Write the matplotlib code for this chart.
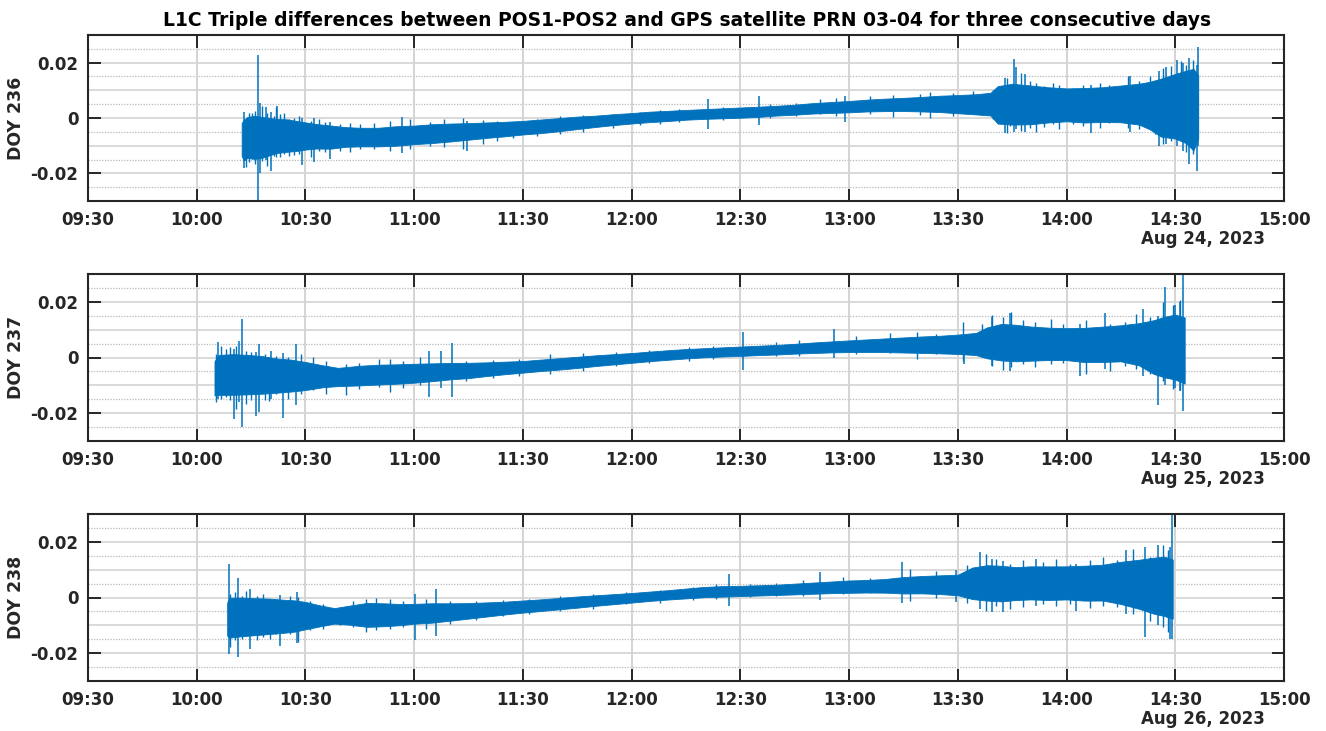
import numpy as np
import pandas as pd
import matplotlib
matplotlib.use('Agg')
import matplotlib.pyplot as plt
import matplotlib.dates as mdates

plt.rcParams['font.family'] = ['DejaVu Sans']
plt.rcParams['font.weight'] = 'bold'

BLUE = '#0072BD'
DARK = '#262626'

days = ['2023-08-24', '2023-08-25', '2023-08-26']
doy_labels = ['DOY 236', 'DOY 237', 'DOY 238']
date_labels = ['Aug 24, 2023', 'Aug 25, 2023', 'Aug 26, 2023']

# ---- DOY 236: envelope of the dense noise band (time, low, high)
env236_t = ['10:12:24', '10:13', '10:14', '10:16', '10:18', '10:20', '10:22', '10:25', '10:28',
            '10:30', '10:33', '10:37', '10:41', '10:45', '10:50', '10:55', '11:00', '11:05',
            '11:10', '11:15', '11:20', '11:25', '11:30', '11:35', '11:40', '11:45', '11:50',
            '11:55', '12:00', '12:05', '12:10', '12:15', '12:20', '12:25', '12:30', '12:35',
            '12:40', '12:45', '12:50', '12:55', '13:00', '13:05', '13:10', '13:15', '13:20',
            '13:25', '13:30', '13:35', '13:39', '13:41', '13:45', '13:50', '13:55', '14:00',
            '14:05', '14:10', '14:15', '14:20', '14:23', '14:26', '14:30', '14:33', '14:35',
            '14:36:20']
env236_lo = [-0.0150, -0.0170, -0.0160, -0.0165, -0.0160, -0.0150, -0.0140, -0.0135, -0.0130,
             -0.0125, -0.0120, -0.0120, -0.0112, -0.0110, -0.0110, -0.0108, -0.0102, -0.0098,
             -0.0092, -0.0085, -0.0078, -0.0072, -0.0065, -0.0060, -0.0053, -0.0045, -0.0037,
             -0.0030, -0.0024, -0.0019, -0.0015, -0.0010, -0.0007, -0.0005, -0.0003, 0.0000,
             0.0005, 0.0008, 0.0012, 0.0014, 0.0016, 0.0019, 0.0020, 0.0020, 0.0018,
             0.0015, 0.0010, 0.0005, 0.0000, -0.0035, -0.0040, -0.0038, -0.0030, -0.0025,
             -0.0030, -0.0028, -0.0030, -0.0040, -0.0060, -0.0090, -0.0100, -0.0120, -0.0150,
             -0.0100]
env236_hi = [-0.0005, 0.0010, 0.0020, 0.0025, 0.0020, 0.0015, 0.0010, 0.0008, 0.0000,
             -0.0005, -0.0012, -0.0018, -0.0025, -0.0028, -0.0028, -0.0022, -0.0020, -0.0015,
             -0.0013, -0.0012, -0.0010, -0.0008, -0.0005, 0.0000, 0.0005, 0.0010, 0.0013,
             0.0018, 0.0022, 0.0027, 0.0030, 0.0033, 0.0036, 0.0039, 0.0042, 0.0045,
             0.0048, 0.0052, 0.0058, 0.0062, 0.0066, 0.0071, 0.0075, 0.0078, 0.0082,
             0.0087, 0.0090, 0.0094, 0.0100, 0.0130, 0.0140, 0.0133, 0.0125, 0.0120,
             0.0122, 0.0125, 0.0132, 0.0140, 0.0150, 0.0165, 0.0185, 0.0200, 0.0210,
             0.0180]
# outlier spikes (time, low, high)
spk236_t = ['10:13:00', '10:17:00', '10:17:24', '10:19:00', '10:20:24', '10:22:12', '10:29:06',
            '10:32:18', '10:36:54', '10:56:36', '11:14:30', '12:21:12', '12:35:06', '12:59:00',
            '13:42:54', '13:45:36', '13:46:06', '13:48:24', '14:06:48', '14:17:24', '14:25:36',
            '14:27:30', '14:30:24', '14:32:06', '14:33:54', '14:35:54', '14:36:24']
spk236_lo = [-0.018, -0.031, -0.020, -0.015, -0.019, -0.012, -0.017, -0.016, -0.0148, -0.0125,
             -0.0118, -0.004, -0.0025, -0.0013, -0.0055, -0.005, -0.004, -0.005, -0.0053,
             -0.005, -0.010, -0.0095, -0.010, -0.012, -0.0166, -0.019, -0.010]
spk236_hi = [0.002, 0.0226, 0.0055, 0.004, 0.002, 0.0043, 0.000, 0.000, -0.0015, 0.0004,
             -0.001, 0.0067, 0.0081, 0.0080, 0.0145, 0.0214, 0.0185, 0.0160, 0.012, 0.0150,
             0.0170, 0.0185, 0.0210, 0.0200, 0.0216, 0.0190, 0.0258]
# fringe extremes of the band (time, low, high)
frg236_t = ['10:13:30', '10:14:24', '10:15:18', '10:16:12', '10:18:06', '10:19:24', '10:21:18',
            '10:22:00', '10:23:06', '10:24:00', '10:25:24', '10:26:48', '10:28:12', '10:31:24',
            '10:33:42', '10:35:30', '10:39:36', '10:42:24', '10:45:06', '10:48:48', '10:53:24',
            '10:58:54', '11:04:24', '11:08:06', '11:13:36', '11:19:06', '11:22:48', '11:27:24',
            '11:33:48', '11:40:12', '11:46:36', '11:54:54', '12:02:12', '12:07:42', '12:13:12',
            '12:25:06',
            '12:38:06', '12:45:24', '12:51:54', '12:56:30', '13:05:42', '13:12:06', '13:19:30',
            '13:22:12', '13:28:36', '13:34:06', '13:39:42', '13:43:30', '13:44:18', '13:47:30',
            '13:49:48', '13:51:36', '13:53:54', '13:56:12', '13:58:00', '14:01:42', '14:04:30',
            '14:09:06', '14:11:48', '14:16:54', '14:20:06', '14:22:54', '14:24:18', '14:26:36',
            '14:28:48', '14:31:36', '14:33:00', '14:34:48']
frg236_hi = [-0.0005, 0.0019, 0.0019, 0.0025, 0.0043, 0.0019, 0.0007, 0.0039, 0.0013, 0.0019,
             -0.0005, 0.0001, 0.0007, -0.0011, -0.0005, -0.0013, -0.0023, -0.0017, -0.0020,
             -0.0017, -0.0011, -0.0005, -0.0013, -0.0005, 0.0001, -0.0008, -0.0011, -0.0013,
             -0.0005, 0.0007, 0.0011, 0.0013, 0.0023, 0.0028, 0.0031, 0.0039,
             0.0051, 0.0055, 0.0067, 0.0073, 0.0079, 0.0083, 0.0087, 0.0094, 0.0091, 0.0097,
             0.0103, 0.0145, 0.0121, 0.0163, 0.0133, 0.0127, 0.0115, 0.0127, 0.0121, 0.0109,
             0.0121, 0.0127, 0.0121, 0.0151, 0.0133, 0.0151, 0.0133, 0.0181, 0.0187, 0.0205,
             0.0193, 0.0211]
frg236_lo = [-0.0178, -0.0160, -0.0148, -0.0166, -0.0154, -0.0172, -0.0136, -0.0142, -0.0142,
             -0.0130, -0.0136, -0.0133, -0.0130, -0.0142, -0.0118, -0.0124, -0.0118, -0.0124,
             -0.0112, -0.0112, -0.0118, -0.0112, -0.0100, -0.0106, -0.0112, -0.0094, -0.0083,
             -0.0073, -0.0065, -0.0059, -0.0049, -0.0037, -0.0025, -0.0020, -0.0013, -0.0008,
             0.0001, 0.0007, 0.0013, 0.0007, 0.0013, 0.0004, 0.0011, 0.0001, 0.0007, 0.0013,
             -0.0005, -0.0053, -0.0029, -0.0047, -0.0035, -0.0050, -0.0032, -0.0023, -0.0041,
             -0.0020, -0.0029, -0.0035, -0.0017, -0.0035, -0.0041, -0.0029, -0.0059, -0.0094,
             -0.0083, -0.0071, -0.0124, -0.0130]

# ---- DOY 237
env237_t = ['10:04:54', '10:06', '10:10', '10:14', '10:18', '10:22', '10:26', '10:30', '10:35',
            '10:39', '10:45', '10:50', '10:55', '11:00', '11:05', '11:10', '11:15', '11:20',
            '11:25', '11:30', '11:35', '11:40', '11:45', '11:50', '11:55', '12:00', '12:05',
            '12:10', '12:15', '12:20', '12:25', '12:30', '12:35', '12:40', '12:45', '12:50',
            '12:55', '13:00', '13:05', '13:10', '13:15', '13:20', '13:25', '13:30', '13:35',
            '13:38', '13:42', '13:46', '13:50', '13:55', '14:00', '14:05', '14:10', '14:15',
            '14:20', '14:24', '14:27', '14:30', '14:32:36']
env237_lo = [-0.0150, -0.0150, -0.0150, -0.0148, -0.0145, -0.0140, -0.0135, -0.0128, -0.0115,
             -0.0110, -0.0108, -0.0105, -0.0102, -0.0098, -0.0092, -0.0085, -0.0080, -0.0072,
             -0.0065, -0.0059, -0.0053, -0.0048, -0.0042, -0.0035, -0.0029, -0.0023, -0.0017,
             -0.0012, -0.0007, -0.0003, 0.0000, 0.0002, 0.0005, 0.0007, 0.0010, 0.0012,
             0.0014, 0.0015, 0.0015, 0.0014, 0.0012, 0.0010, 0.0008, 0.0005, 0.0000,
             -0.0015, -0.0025, -0.0028, -0.0025, -0.0022, -0.0022, -0.0030, -0.0030, -0.0028,
             -0.0045, -0.0080, -0.0095, -0.0105, -0.0120]
env237_hi = [0.0000, 0.0025, 0.0028, 0.0025, 0.0020, 0.0010, 0.0005, -0.0005, -0.0020,
             -0.0030, -0.0022, -0.0018, -0.0017, -0.0015, -0.0014, -0.0013, -0.0013, -0.0012,
             -0.0010, -0.0008, -0.0003, 0.0002, 0.0007, 0.0012, 0.0016, 0.0020, 0.0025,
             0.0030, 0.0034, 0.0037, 0.0040, 0.0043, 0.0046, 0.0049, 0.0053, 0.0058,
             0.0062, 0.0066, 0.0070, 0.0074, 0.0078, 0.0082, 0.0085, 0.0090, 0.0097,
             0.0120, 0.0135, 0.0132, 0.0125, 0.0120, 0.0118, 0.0120, 0.0125, 0.0130,
             0.0140, 0.0155, 0.0170, 0.0180, 0.0170]
spk237_t = ['10:06:00', '10:10:12', '10:11:48', '10:12:30', '10:16:24', '10:17:18', '10:20:30',
            '10:23:42', '10:27:24', '11:04:12', '11:07:24', '11:10:24', '12:30:42', '12:55:48',
            '13:31:48', '13:39:18', '13:44:18', '14:03:42', '14:10:36', '14:21:06', '14:25:18',
            '14:27:12', '14:29:54', '14:31:18', '14:32:12']
spk237_lo = [-0.015, -0.022, -0.016, -0.025, -0.021, -0.0196, -0.015, -0.0217, -0.017, -0.0142,
             -0.011, -0.0142, -0.0044, 0.000, -0.0025, -0.003, -0.0047, -0.0065, -0.004,
             -0.0065, -0.017, -0.010, -0.011, -0.012, -0.0193]
spk237_hi = [0.0055, 0.003, 0.006, 0.0139, 0.002, 0.0049, 0.0025, 0.0015, 0.0049, 0.0025,
             0.0025, 0.0051, 0.0093, 0.0103, 0.0085, 0.0147, 0.0159, 0.012, 0.0159, 0.0175,
             0.0150, 0.0252, 0.0190, 0.0200, 0.0310]
frg237_t = ['10:05:18', '10:06:42', '10:08:06', '10:09:12', '10:10:54', '10:13:36', '10:15:00',
            '10:18:42', '10:20:00', '10:21:54', '10:25:06', '10:28:48', '10:32:00', '10:35:42',
            '10:41:12', '10:44:54', '10:50:24', '10:53:12', '10:56:54', '11:01:30', '11:14:18',
            '11:21:42', '11:29:00', '11:37:24', '11:46:36', '11:55:42', '12:04:54', '12:15:54',
            '12:22:24',
            '12:39:54', '12:46:18', '13:02:00', '13:11:12', '13:18:36', '13:24:06', '13:31:24',
            '13:36:48', '13:39:18', '13:42:30', '13:44:48', '13:48:00', '13:51:12', '13:55:48',
            '13:59:00', '14:05:30', '14:12:00', '14:16:06', '14:19:18', '14:23:00', '14:26:42',
            '14:29:24', '14:31:12']
frg237_hi = [0.0013, 0.0043, 0.0031, 0.0037, 0.0043, 0.0025, 0.0019, 0.0013, -0.0008, 0.0007,
             0.0001, 0.0013, 0.0001, -0.0013, -0.0023, -0.0020, -0.0005, -0.0005, -0.0011,
             0.0001, -0.0013, -0.0008, -0.0005, 0.0013, 0.0016, 0.0019, 0.0028, 0.0039, 0.0043,
             0.0055, 0.0063, 0.0079, 0.0087, 0.0091, 0.0085, 0.0127, 0.0121, 0.0151, 0.0145,
             0.0163, 0.0133, 0.0127, 0.0139, 0.0121, 0.0133, 0.0121, 0.0127, 0.0157, 0.0145,
             0.0199, 0.0187, 0.0205]
frg237_lo = [-0.0160, -0.0148, -0.0142, -0.0154, -0.0184, -0.0166, -0.0152, -0.0154, -0.0158,
             -0.0130, -0.0148, -0.0130, -0.0118, -0.0130, -0.0136, -0.0112, -0.0106, -0.0124,
             -0.0109, -0.0100, -0.0085, -0.0073, -0.0065, -0.0059, -0.0047, -0.0032, -0.0020,
             -0.0011, -0.0005,
             0.0007, 0.0007, 0.0013, 0.0016, -0.0005, 0.0013, -0.0013, 0.0001, -0.0029, -0.0044,
             -0.0035, -0.0023, -0.0035, -0.0025, -0.0020, -0.0059, -0.0047, -0.0029, -0.0041,
             -0.0059, -0.0083, -0.0112, -0.0118]

# ---- DOY 238
env238_t = ['10:08:24', '10:09', '10:12', '10:16', '10:20', '10:24', '10:27', '10:30', '10:34',
            '10:38', '10:42', '10:47', '10:52', '10:56', '11:00', '11:05', '11:10', '11:15',
            '11:20', '11:25', '11:30', '11:35', '11:40', '11:45', '11:50', '11:55', '12:00',
            '12:05', '12:10', '12:15', '12:20', '12:25', '12:30', '12:35', '12:40', '12:45',
            '12:50', '12:55', '13:00', '13:05', '13:10', '13:15', '13:20', '13:25', '13:30',
            '13:34', '13:38', '13:42', '13:46', '13:50', '13:55', '14:00', '14:05', '14:10',
            '14:15', '14:20', '14:24', '14:27', '14:29:18']
env238_lo = [-0.0150, -0.0160, -0.0155, -0.0150, -0.0145, -0.0140, -0.0135, -0.0125, -0.0112,
             -0.0100, -0.0105, -0.0115, -0.0112, -0.0108, -0.0102, -0.0098, -0.0090, -0.0082,
             -0.0074, -0.0066, -0.0059, -0.0053, -0.0047, -0.0041, -0.0034, -0.0028, -0.0022,
             -0.0016, -0.0011, -0.0007, -0.0003, -0.0001, 0.0001, 0.0003, 0.0005, 0.0007,
             0.0009, 0.0011, 0.0012, 0.0013, 0.0012, 0.0008, 0.0008, 0.0005, 0.0000,
             -0.0018, -0.0025, -0.0028, -0.0022, -0.0020, -0.0022, -0.0020, -0.0025, -0.0025,
             -0.0040, -0.0060, -0.0080, -0.0090, -0.0100]
env238_hi = [-0.0005, 0.0015, 0.0015, 0.0012, 0.0010, 0.0005, 0.0002, -0.0005, -0.0020,
             -0.0032, -0.0022, -0.0010, -0.0012, -0.0015, -0.0015, -0.0013, -0.0014, -0.0014,
             -0.0012, -0.0010, -0.0006, -0.0002, 0.0003, 0.0008, 0.0012, 0.0016, 0.0020,
             0.0025, 0.0030, 0.0036, 0.0042, 0.0045, 0.0046, 0.0048, 0.0050, 0.0054,
             0.0058, 0.0062, 0.0066, 0.0068, 0.0072, 0.0080, 0.0084, 0.0087, 0.0090,
             0.0120, 0.0130, 0.0128, 0.0122, 0.0125, 0.0125, 0.0125, 0.0128, 0.0132,
             0.0145, 0.0155, 0.0165, 0.0170, 0.0160]
spk238_t = ['10:08:54', '10:11:18', '10:14:48', '10:23:06', '10:27:42', '11:00:06', '11:06:06',
            '12:26:48', '12:52:06', '13:14:42', '13:29:36', '13:36:06', '13:39:18', '13:42:30',
            '13:51:42', '14:02:42', '14:16:30', '14:21:36', '14:25:18', '14:28:30', '14:29:12']
spk238_lo = [-0.0204, -0.0214, -0.0185, -0.0176, -0.0165, -0.0154, -0.0140, -0.0032, -0.0008,
             -0.0020, -0.0015, -0.004, -0.0053, -0.0053, -0.003, -0.0047, -0.0059, -0.0142,
             -0.010, -0.0148, -0.0150]
spk238_hi = [0.0121, 0.0069, 0.003, 0.001, 0.002, 0.0013, 0.0031, 0.0083, 0.0090, 0.0127,
             0.0100, 0.0163, 0.0140, 0.0130, 0.0140, 0.0120, 0.0169, 0.0180, 0.0190, 0.0180,
             0.0310]
frg238_t = ['10:09:18', '10:10:30', '10:12:24', '10:13:42', '10:16:30', '10:18:18', '10:20:12',
            '10:22:00', '10:25:42', '10:28:00', '10:31:12', '10:34:54', '10:39:30', '10:43:12',
            '10:46:48', '10:49:36', '10:53:18', '10:56:54', '11:03:18', '11:09:48', '11:17:06',
            '11:24:30', '11:31:48', '11:40:06', '11:49:18', '11:58:30', '12:07:42', '12:16:54',
            '12:23:18',
            '12:32:36', '12:39:54', '12:47:18', '12:58:18', '13:05:42', '13:16:42', '13:24:06',
            '13:32:24', '13:37:54', '13:40:36', '13:44:18', '13:48:00', '13:53:30', '13:57:12',
            '14:00:54', '14:06:24', '14:10:06', '14:13:48', '14:18:24', '14:23:00', '14:26:42',
            '14:28:06']
frg238_hi = [0.0013, 0.0019, 0.0007, 0.0025, 0.0007, 0.0013, -0.0005, -0.0013, 0.0007, 0.0001,
             -0.0013, -0.0023, -0.0035, -0.0013, -0.0005, -0.0001, -0.0005, -0.0013, -0.0005,
             -0.0013, -0.0013, -0.0008, -0.0005, 0.0007, 0.0013, 0.0019, 0.0028, 0.0037, 0.0047,
             0.0049, 0.0051, 0.0063, 0.0073, 0.0071, 0.0103, 0.0094, 0.0115, 0.0157, 0.0139,
             0.0121, 0.0133, 0.0127, 0.0139, 0.0121, 0.0133, 0.0145, 0.0133, 0.0175, 0.0145,
             0.0187, 0.0169]
frg238_lo = [-0.0178, -0.0154, -0.0148, -0.0136, -0.0154, -0.0142, -0.0148, -0.0130, -0.0130,
             -0.0160, -0.0118, -0.0112, -0.0100, -0.0106, -0.0124, -0.0118, -0.0112, -0.0106,
             -0.0112, -0.0094, -0.0080, -0.0068, -0.0061, -0.0049, -0.0041, -0.0025, -0.0020,
             -0.0008, -0.0005,
             0.0001, 0.0007, 0.0007, 0.0013, 0.0016, -0.0011, -0.0001, -0.0020, -0.0047, -0.0029,
             -0.0041, -0.0035, -0.0023, -0.0029, -0.0023, -0.0037, -0.0029, -0.0035, -0.0059,
             -0.0083, -0.0106, -0.0124]

envelopes = [(env236_t, env236_lo, env236_hi),
             (env237_t, env237_lo, env237_hi),
             (env238_t, env238_lo, env238_hi)]
spikes = [(spk236_t, spk236_lo, spk236_hi),
          (spk237_t, spk237_lo, spk237_hi),
          (spk238_t, spk238_lo, spk238_hi)]
fringes = [(frg236_t, frg236_lo, frg236_hi),
           (frg237_t, frg237_lo, frg237_hi),
           (frg238_t, frg238_lo, frg238_hi)]

CORE = 0.82  # solid part of the band drawn a bit inside its outer extent


def to_time(day, times):
    return pd.to_datetime([day + ' ' + t for t in times], format='mixed').to_pydatetime()


fig = plt.figure(figsize=(13.26, 7.31), dpi=100)
W, H = 1326.0, 731.0
panel_px = [(35, 201), (274, 441), (514, 681)]

for k in range(3):
    top, bot = panel_px[k]
    ax = fig.add_axes([88 / W, 1 - bot / H, 1196 / W, (bot - top) / H])
    day = days[k]

    # grid
    for v in [-0.02, -0.01, 0.0, 0.01, 0.02]:
        ax.axhline(v, color='#d9d9d9', lw=1.4, zorder=0)
    for v in [-0.025, -0.015, -0.005, 0.005, 0.015, 0.025]:
        ax.axhline(v, color='#b8b8b8', lw=0.9, ls=(0, (1, 1.2)), zorder=0)
    t0 = pd.Timestamp(day + ' 09:30')
    for i in range(12):
        ax.axvline(t0 + pd.Timedelta(minutes=30 * i), color='#d4d4d4', lw=1.4, zorder=0)

    et, elo, ehi = envelopes[k]
    elo, ehi = np.array(elo), np.array(ehi)
    mid, half = (elo + ehi) / 2, (ehi - elo) / 2 * CORE
    ax.fill_between(to_time(day, et), mid - half, mid + half, color=BLUE, lw=0.6, zorder=2)
    ft, flo, fhi = fringes[k]
    ax.vlines(to_time(day, ft), flo, fhi, color=BLUE, lw=1.0, zorder=2)
    st, slo, shi = spikes[k]
    ax.vlines(to_time(day, st), slo, shi, color=BLUE, lw=1.1, zorder=2)

    ax.set_xlim(pd.Timestamp(day + ' 09:30'), pd.Timestamp(day + ' 15:00'))
    ax.set_ylim(-0.03, 0.03)
    ax.set_yticks([-0.02, 0, 0.02])
    ax.set_yticklabels(['-0.02', '0', '0.02'])
    ax.xaxis.set_major_locator(mdates.MinuteLocator(byminute=[0, 30]))
    ax.xaxis.set_major_formatter(mdates.DateFormatter('%H:%M'))
    ax.tick_params(direction='in', length=9, width=1.4, top=True, right=True,
                   colors=DARK, labelsize=12, pad=7)
    for lab in ax.get_xticklabels() + ax.get_yticklabels():
        lab.set_fontweight('bold')
    for s in ax.spines.values():
        s.set_linewidth(1.5)
        s.set_color(DARK)
    ax.set_ylabel(doy_labels[k], fontsize=12.5, fontweight='bold', color=DARK, labelpad=4)

    fig.text(1265 / W, 1 - (bot + 38) / H, date_labels[k], ha='right', va='center',
             fontsize=12, fontweight='bold', color=DARK)

fig.text(687 / W, 1 - 20 / H,
         'L1C Triple differences between POS1-POS2 and GPS satellite PRN 03-04 for three consecutive days',
         ha='center', va='center', fontsize=13.5, fontweight='bold', color='black')

fig.savefig('out.png', dpi=100)
